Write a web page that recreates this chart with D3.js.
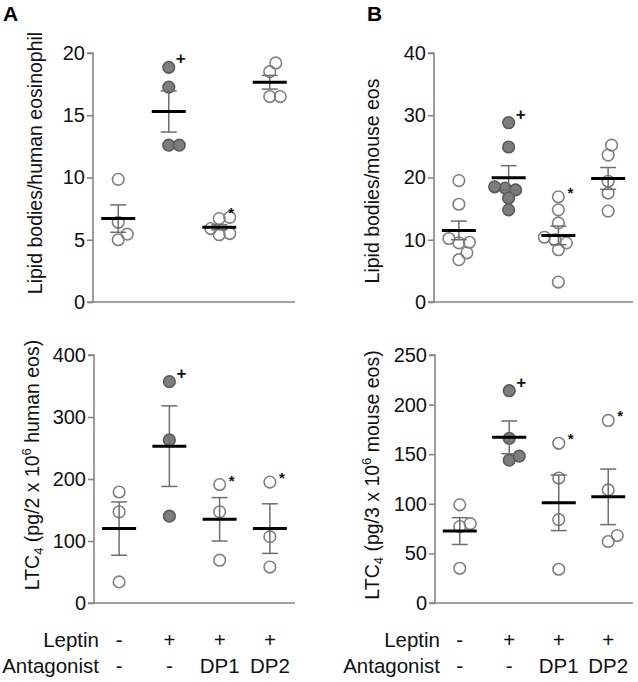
<!DOCTYPE html>
<html><head><meta charset="utf-8">
<script src="https://cdn.jsdelivr.net/npm/d3@7"></script>
<style>body{margin:0;background:#fff}svg{font-family:Arial,"Liberation Sans",sans-serif}</style>
</head><body><svg id="c" width="638" height="682"></svg>
<script>
// ---------- data ----------
const groups = ["g1","g2","g3","g4"];
const leptinLabels = ["-","+","+","+"];
const antagonistLabels = ["-","-","DP1","DP2"];
const filledGroup = [false,true,false,false];

// A top: lipid bodies / human eosinophil
const humanLipidValues = [[9.85,6.4,5.0,5.45],[18.85,17.26,12.6,12.6],[6.7,6.8,5.9,5.5,5.4],[19.2,18.5,16.5,16.5]];
const humanLipidMeans = [6.7,15.3,6.0,17.65];
const humanLipidSems = [1.1,1.65,0.2,0.55];
const humanLipidMarks = ["","+","*",""];
const humanLipidTicks = [0,5,10,15,20];

// B top: lipid bodies / mouse eos
const mouseLipidValues = [[19.5,15.7,10.2,9.5,9.6,7.9,6.8],[28.8,24.9,18.3,18.0,18.5,16.7,14.8],[16.9,14.8,12.7,9.5,10.0,10.4,8.4,3.2],[25.2,23.6,19.4,17.5,14.6]];
const mouseLipidMeans = [11.5,19.95,10.7,19.85];
const mouseLipidSems = [1.5,1.95,1.5,1.75];
const mouseLipidMarks = ["","+","*",""];
const mouseLipidTicks = [0,10,20,30,40];

// A bottom: LTC4 pg / 2x10^6 human eos
const humanLtcValues = [[179,147,34],[357,263,140],[191,147,69],[195,107,58]];
const humanLtcMeans = [120,253,135,120];
const humanLtcSems = [43,65,35,40];
const humanLtcMarks = ["","+","*","*"];
const humanLtcTicks = [0,100,200,300,400];

// B bottom: LTC4 pg / 3x10^6 mouse eos
const mouseLtcValues = [[99,80,77,35],[214,166,144,148],[161,126,84,34],[184,114,62,68]];
const mouseLtcMeans = [72.5,167,101,107];
const mouseLtcSems = [13.5,16.5,28,28];
const mouseLtcMarks = ["","+","*","*"];
const mouseLtcTicks = [0,50,100,150,200,250];

// ---------- drawing ----------
const svg = d3.select("#c");
const FS = 20;
const R = 5.8;
const TXT = "#111";

function swarm(ys, minD){
  const order = ys.map((y,i)=>i).sort((a,b)=>ys[b]-ys[a]);
  const placed = [];
  const dx = new Array(ys.length).fill(0);
  order.forEach(i=>{
    const y = ys[i];
    let best = 0;
    for(let s=0; s<=40; s+=0.5){
      let found=false;
      for(const c of (s===0?[0]:[s,-s])){
        if(placed.every(p=>Math.hypot(p.x-c,p.y-y)>=minD)){best=c;found=true;break;}
      }
      if(found) break;
    }
    dx[i]=best; placed.push({x:best,y:y});
  });
  return dx;
}

function panel(o){
  const g = svg.append("g");
  const x = d3.scalePoint().domain(groups).range([o.x0,o.x1]).padding(0.5);
  const y = d3.scaleLinear().domain([0,o.max]).range([o.y0,o.y1]);

  const ax = g.append("g").attr("transform",`translate(${o.x0},0)`)
    .call(d3.axisLeft(y).tickValues(o.ticks).tickSize(6).tickPadding(2).tickFormat(d3.format("d")));
  ax.select(".domain").attr("stroke","#858585").attr("stroke-width",1.6).attr("d",`M-6,${o.y0}H0V${o.y1}H-6`);
  ax.selectAll(".tick line").attr("stroke","#858585").attr("stroke-width",1.6);
  ax.selectAll(".tick text").attr("font-size",FS).attr("fill",TXT).attr("font-family","Arial, 'Liberation Sans', sans-serif");
  g.append("line").attr("x1",o.x0).attr("x2",o.x1).attr("y1",o.y0).attr("y2",o.y0)
    .attr("stroke","#858585").attr("stroke-width",1.6);

  groups.forEach((gk,i)=>{
    const cx = x(gk);
    const vals = o.values[i];
    const ys = vals.map(v=>y(v));
    const dx = swarm(ys, 10.5);
    g.selectAll(null).data(vals).enter().append("circle")
      .attr("cx",(d,j)=>cx+dx[j]).attr("cy",d=>y(d)).attr("r",R)
      .attr("fill",filledGroup[i]?"#7d7d7d":"none")
      .attr("stroke",filledGroup[i]?"#5a5a5a":"#808080").attr("stroke-width",1.6);
    const m = o.means[i], s = o.sems[i];
    g.append("line").attr("x1",cx).attr("x2",cx).attr("y1",y(m+s)).attr("y2",y(m-s))
      .attr("stroke","#6e6e6e").attr("stroke-width",1.5);
    [m+s,m-s].forEach(v=>g.append("line").attr("x1",cx-8).attr("x2",cx+8).attr("y1",y(v)).attr("y2",y(v))
      .attr("stroke","#6e6e6e").attr("stroke-width",1.5));
    g.append("line").attr("x1",cx-17).attr("x2",cx+17).attr("y1",y(m)).attr("y2",y(m))
      .attr("stroke","#000").attr("stroke-width",3);
    const mk = o.marks[i];
    if(mk){
      const top = y(d3.max(vals));
      g.append("text").attr("x",cx+12).attr("y",mk==="+"?top-3:top+1)
        .attr("text-anchor","middle").attr("font-size",mk==="+"?17:15).attr("font-weight","bold")
        .attr("fill","#111").text(mk);
    }
  });

  const t = g.append("text").attr("transform",`translate(${o.tx},${o.ty}) rotate(-90)`)
    .attr("text-anchor","middle").attr("font-size",19.5).attr("fill",TXT);
  o.title(t);
  return x;
}

const xA = {x0:93,x1:295}, xB={x0:434,x1:633};

panel({x0:xA.x0,x1:xA.x1,y0:302,y1:53,max:20,ticks:humanLipidTicks,values:humanLipidValues,
  means:humanLipidMeans,sems:humanLipidSems,marks:humanLipidMarks,tx:42,ty:163,
  title:t=>t.text("Lipid bodies/human eosinophil")});
panel({x0:xB.x0,x1:xB.x1,y0:302,y1:53,max:40,ticks:mouseLipidTicks,values:mouseLipidValues,
  means:mouseLipidMeans,sems:mouseLipidSems,marks:mouseLipidMarks,tx:379,ty:181,
  title:t=>t.text("Lipid bodies/mouse eos")});
const xa = panel({x0:xA.x0+1,x1:xA.x1,y0:603,y1:355,max:400,ticks:humanLtcTicks,values:humanLtcValues,
  means:humanLtcMeans,sems:humanLtcSems,marks:humanLtcMarks,tx:39,ty:465,
  title:t=>{t.append("tspan").text("LTC");t.append("tspan").attr("font-size",13).attr("dy",4).text("4");
    t.append("tspan").attr("dy",-4).text(" (pg/2 x 10");t.append("tspan").attr("font-size",13).attr("dy",-8).text("6");
    t.append("tspan").attr("dy",8).text(" human eos)");}});
const xb = panel({x0:xB.x0+1,x1:xB.x1,y0:603,y1:355,max:250,ticks:mouseLtcTicks,values:mouseLtcValues,
  means:mouseLtcMeans,sems:mouseLtcSems,marks:mouseLtcMarks,tx:379,ty:475,
  title:t=>{t.append("tspan").text("LTC");t.append("tspan").attr("font-size",13).attr("dy",4).text("4");
    t.append("tspan").attr("dy",-4).text(" (pg/3 x 10");t.append("tspan").attr("font-size",13).attr("dy",-8).text("6");
    t.append("tspan").attr("dy",8).text(" mouse eos)");}});

svg.append("text").attr("x",3).attr("y",21).attr("font-size",21).attr("font-weight","bold").attr("fill","#000").text("A");
svg.append("text").attr("x",367).attr("y",21).attr("font-size",21).attr("font-weight","bold").attr("fill","#000").text("B");

[[xa,xA.x0],[xb,xB.x0]].forEach(([xs,ax0])=>{
  const g = svg.append("g").attr("font-size",20.5).attr("fill",TXT);
  g.append("text").attr("x",ax0+6).attr("y",647).attr("text-anchor","end").text("Leptin");
  g.append("text").attr("x",ax0+6).attr("y",673).attr("text-anchor","end").text("Antagonist");
  groups.forEach((gk,i)=>{
    g.append("text").attr("x",xs(gk)).attr("y",647).attr("text-anchor","middle").text(leptinLabels[i]);
    g.append("text").attr("x",xs(gk)).attr("y",673).attr("text-anchor","middle").text(antagonistLabels[i]);
  });
});
</script></body></html>
